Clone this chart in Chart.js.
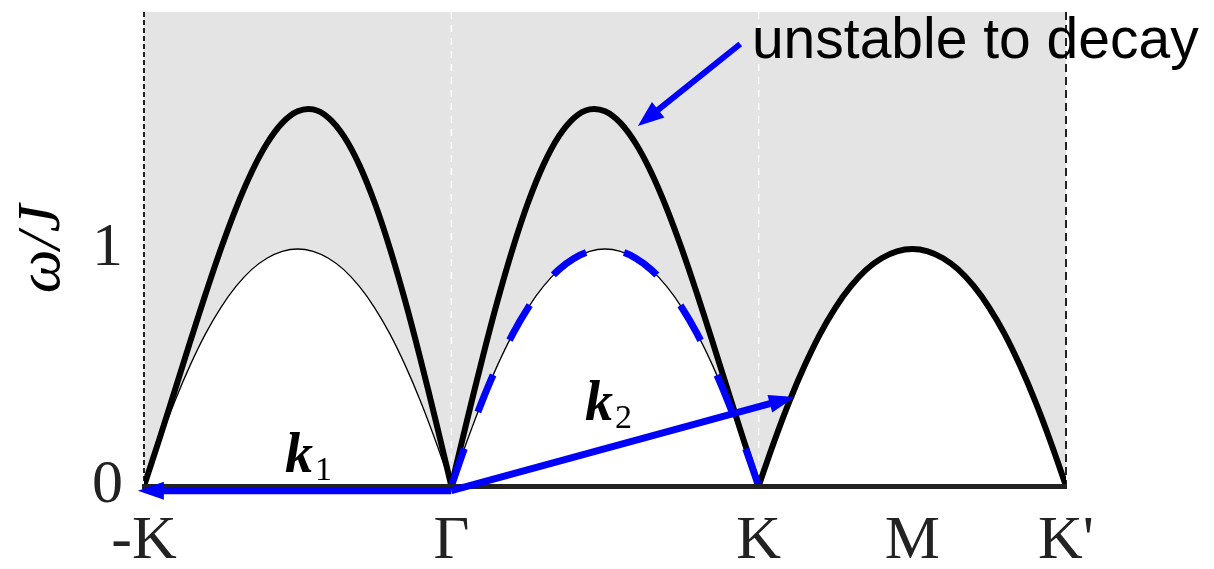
<!DOCTYPE html>
<html>
<head>
<meta charset="utf-8">
<script src="https://cdn.jsdelivr.net/npm/chart.js@4"></script>
<style>
  html, body { margin: 0; padding: 0; background: #fff; }
  #wrap { width: 1214px; height: 569px; }
</style>
</head>
<body>
<div id="wrap"><canvas id="chart"></canvas></div>
<script>
// position along one path segment (-K→Γ, Γ→K, K→M→K')
const segT = [0, 0.05, 0.1, 0.15, 0.2, 0.25, 0.3, 0.35, 0.4, 0.45, 0.5,
              0.55, 0.6, 0.65, 0.7, 0.75, 0.8, 0.85, 0.9, 0.95, 1];

// magnon energy along Γ→K (ω/J)
const magnonGK = [0, 0.271, 0.533, 0.780, 1.003, 1.197, 1.356, 1.476, 1.554, 1.589, 1.581,
                  1.532, 1.445, 1.324, 1.174, 1.000, 0.809, 0.608, 0.402, 0.198, 0];

// lower edge of the two-magnon continuum (same curve as the magnon on K→M→K')
const edgeKK = [0, 0.186, 0.357, 0.509, 0.642, 0.753, 0.843, 0.913, 0.961, 0.990, 1.000,
                0.990, 0.961, 0.913, 0.843, 0.753, 0.642, 0.509, 0.357, 0.186, 0];

// high-symmetry points
const tickPos = [0, 1, 2, 2.5, 3];
const tickNames = ['-K', 'Γ', 'K', 'M', "K'"];
const yTicks = [0, 1];
const guideAt = [0, 1, 2, 3];

// arrows: k1, k2 and the "unstable" pointer
const arrowFrom = [[1, -0.02], [1, -0.02], [1.94, 1.865]];
const arrowTo = [[-0.02, -0.02], [2.118, 0.376], [1.607, 1.519]];

const BLUE = '#0000ff';

function pts(x0, vals, flip) {
  return segT.map((t, i) => ({ x: x0 + t, y: flip ? vals[vals.length - 1 - i] : vals[i] }));
}

function line(data, opts) {
  return Object.assign({
    data,
    borderColor: '#000',
    pointRadius: 0,
    fill: false,
    tension: 0.4,
    borderCapStyle: 'butt',
    borderJoinStyle: 'round'
  }, opts);
}

// gray continuum background and the dashed guide lines
const shade = {
  id: 'shade',
  beforeDatasetsDraw(chart) {
    const { ctx, chartArea: a, scales: { x } } = chart;
    ctx.save();
    ctx.fillStyle = '#e4e4e4';
    ctx.fillRect(a.left, a.top, a.right - a.left, a.bottom - a.top);
    guideAt.forEach((v, i) => {
      const px = x.getPixelForValue(v);
      const edge = i === 0 || i === guideAt.length - 1;
      ctx.beginPath();
      ctx.strokeStyle = edge ? '#222' : '#ffffff';
      ctx.lineWidth = edge ? 2 : 1.5;
      ctx.setLineDash(edge ? (i === 0 ? [5, 3] : [8, 5]) : [7, 6]);
      ctx.moveTo(px, a.top);
      ctx.lineTo(px, a.bottom);
      ctx.stroke();
    });
    ctx.restore();
  }
};

function drawArrow(ctx, x0, y0, x1, y1, w, len, half) {
  const a = Math.atan2(y1 - y0, x1 - x0);
  const bx = x1 - len * Math.cos(a), by = y1 - len * Math.sin(a);
  ctx.beginPath();
  ctx.lineWidth = w;
  ctx.moveTo(x0, y0);
  ctx.lineTo(bx + Math.cos(a), by + Math.sin(a));
  ctx.stroke();
  ctx.beginPath();
  ctx.moveTo(x1, y1);
  ctx.lineTo(bx + half * Math.sin(a), by - half * Math.cos(a));
  ctx.lineTo(bx - half * Math.sin(a), by + half * Math.cos(a));
  ctx.closePath();
  ctx.fill();
}

function vecLabel(ctx, px, py, sub) {
  ctx.font = 'italic bold 56px "Liberation Serif"';
  ctx.fillText('k', px, py);
  const w = ctx.measureText('k').width;
  ctx.font = '34px "Liberation Serif"';
  ctx.fillText(sub, px + w + 2, py + 8);
}

// arrows and text annotations on top
const notes = {
  id: 'notes',
  afterDraw(chart) {
    const { ctx, scales: { x, y } } = chart;
    ctx.save();
    ctx.strokeStyle = BLUE;
    ctx.fillStyle = BLUE;
    ctx.lineCap = 'butt';
    arrowFrom.forEach((p, i) => {
      const q = arrowTo[i];
      const last = i === arrowFrom.length - 1;
      drawArrow(ctx,
        x.getPixelForValue(p[0]), y.getPixelForValue(p[1]),
        x.getPixelForValue(q[0]), y.getPixelForValue(q[1]),
        last ? 6 : 7, 26, last ? 10 : 9);
    });

    ctx.fillStyle = '#000';
    ctx.textBaseline = 'alphabetic';
    ctx.textAlign = 'left';
    vecLabel(ctx, x.getPixelForValue(0.459), y.getPixelForValue(0.059), '1');
    vecLabel(ctx, x.getPixelForValue(1.435), y.getPixelForValue(0.278), '2');

    ctx.font = '57px "Liberation Sans"';
    ctx.fillText('unstable to decay', x.getPixelForValue(1.978), y.getPixelForValue(1.806));
    ctx.restore();
  }
};

const serif = { family: '"Liberation Serif", "Times New Roman", serif', size: 62 };

// fixed axis boxes, no extra room for overhanging tick labels
function fixBox(size, key) {
  return s => {
    s[key] = size;
    s.paddingTop = 0;
    s.paddingBottom = 0;
    s.paddingLeft = 0;
    s.paddingRight = 0;
  };
}

new Chart(document.getElementById('chart'), {
  type: 'line',
  data: {
    datasets: [
      line(pts(1, edgeKK), { borderColor: BLUE, borderWidth: 7, borderDash: [40, 38.7], order: 1 }),
      line(pts(0, magnonGK, true), { borderWidth: 6, order: 3 }),
      line(pts(1, magnonGK), { borderWidth: 6, order: 3 }),
      line(pts(2, edgeKK), { borderWidth: 6, fill: 'origin', backgroundColor: '#ffffff', order: 4 }),
      line(pts(0, edgeKK), { borderWidth: 1.3, fill: 'origin', backgroundColor: '#ffffff', order: 5 }),
      line(pts(1, edgeKK), { borderWidth: 1.3, fill: 'origin', backgroundColor: '#ffffff', order: 5 })
    ]
  },
  options: {
    responsive: true,
    maintainAspectRatio: false,
    devicePixelRatio: 1,
    animation: false,
    layout: { padding: { top: 12, right: 148, bottom: 0, left: 0 } },
    plugins: {
      legend: { display: false },
      tooltip: { enabled: false }
    },
    scales: {
      x: {
        type: 'linear',
        min: 0,
        max: 3,
        afterBuildTicks: s => { s.ticks = tickPos.map(v => ({ value: v })); },
        afterFit: fixBox(83, 'height'),
        ticks: {
          callback: v => tickNames[tickPos.indexOf(v)],
          font: serif,
          color: '#222',
          padding: 19,
          maxRotation: 0,
          autoSkip: false
        },
        grid: { display: false, drawTicks: false },
        border: { display: true, color: '#222', width: 5, z: 1 }
      },
      y: {
        min: 0,
        max: 2,
        afterBuildTicks: s => { s.ticks = yTicks.map(v => ({ value: v })); },
        afterFit: fixBox(144, 'width'),
        ticks: {
          callback: v => String(v),
          font: serif,
          color: '#222',
          padding: 21
        },
        grid: { display: false, drawTicks: false },
        border: { display: false },
        title: {
          display: true,
          text: 'ω/J',
          font: { family: serif.family, size: 62, style: 'italic' },
          color: '#000',
          padding: { top: 6, bottom: 0 }
        }
      }
    }
  },
  plugins: [shade, notes]
});
</script>
</body>
</html>
